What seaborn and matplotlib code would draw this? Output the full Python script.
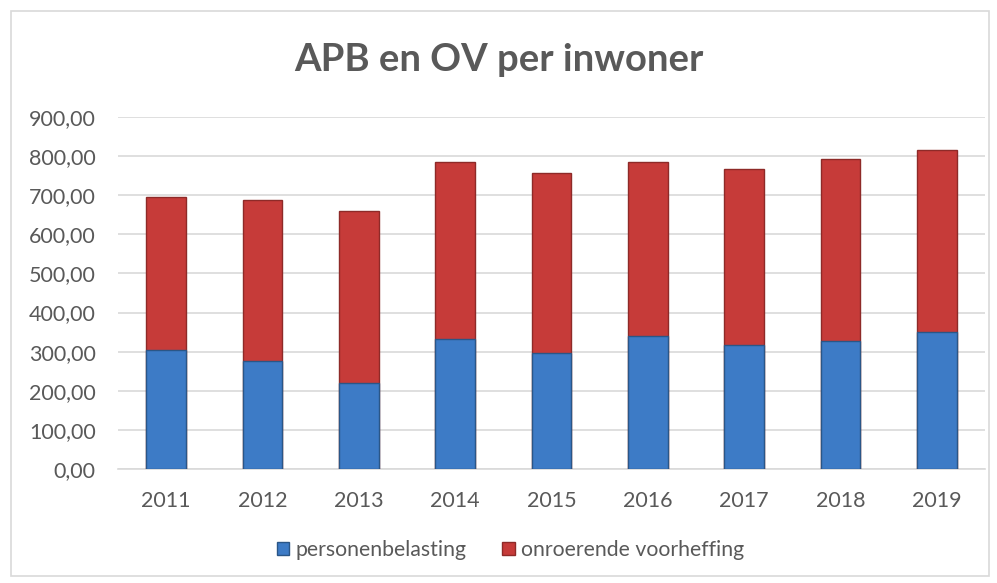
import matplotlib
matplotlib.use("Agg")
import matplotlib.pyplot as plt
import seaborn as sns
import pandas as pd
from matplotlib.patches import Rectangle, Patch
from matplotlib.ticker import FuncFormatter

years = ["2011", "2012", "2013", "2014", "2015", "2016", "2017", "2018", "2019"]
personenbelasting = [304, 276, 220, 332, 297, 341, 317, 328, 351]
onroerende_voorheffing = [391, 411, 439, 454, 460, 445, 449, 464, 464]
series_names = ["personenbelasting", "onroerende voorheffing"]
title = "APB en OV per inwoner"

sns.set_theme(style="white")
plt.rcParams["font.family"] = ["Lato", "DejaVu Sans"]

df = pd.DataFrame({
    "jaar": years,
    "pb": personenbelasting,
    "totaal": [a + b for a, b in zip(personenbelasting, onroerende_voorheffing)],
})

blue = "#3D7BC6"
red = "#C63B39"
blue_edge = "#2A5687"
red_edge = "#8E2A28"
text_col = "#595959"

fig = plt.figure(figsize=(9.97, 5.83), dpi=100)
fig.patches.append(Rectangle((11 / 997, 1 - 576 / 583), 978 / 997, 565 / 583,
                             transform=fig.transFigure, fill=False,
                             edgecolor="#D9D9D9", linewidth=1.2, zorder=0))
ax = fig.add_axes([118 / 997, 1 - 469 / 583, 867 / 997, 352 / 583])

sns.barplot(data=df, x="jaar", y="totaal", color=red, width=0.41,
            edgecolor=red_edge, linewidth=1.0, saturation=1, ax=ax, zorder=3)
sns.barplot(data=df, x="jaar", y="pb", color=blue, width=0.41,
            edgecolor=blue_edge, linewidth=1.0, saturation=1, ax=ax, zorder=4)

ax.set_ylim(0, 900)
ax.set_xlim(-0.5, len(years) - 0.5)
ax.set_yticks(range(0, 901, 100))
ax.yaxis.set_major_formatter(FuncFormatter(lambda v, p: f"{v:.2f}".replace(".", ",")))
ax.grid(axis="y", color="#D9D9D9", linewidth=1.2, zorder=0)
ax.set_axisbelow(True)
for s in ["top", "right", "left"]:
    ax.spines[s].set_visible(False)
ax.spines["bottom"].set_color("#D9D9D9")
ax.spines["bottom"].set_linewidth(1.2)
ax.set_xlabel("")
ax.set_ylabel("")
ax.tick_params(axis="both", length=0, labelsize=15.5, labelcolor=text_col)
ax.tick_params(axis="x", pad=16)
ax.tick_params(axis="y", pad=16)

fig.text(0.5, 1 - 71 / 583, title, ha="center", va="baseline", fontsize=27.5,
         fontweight="bold", color=text_col)

handles = [Patch(facecolor=blue, edgecolor=blue_edge), Patch(facecolor=red, edgecolor=red_edge)]
fig.legend(handles, series_names, loc="center", bbox_to_anchor=(0.512, 1 - 550 / 583),
           ncol=2, frameon=False, fontsize=15.3, labelcolor=text_col,
           handlelength=0.6, handleheight=0.6, handletextpad=0.3, columnspacing=1.65)

fig.savefig("out.png", dpi=100)
